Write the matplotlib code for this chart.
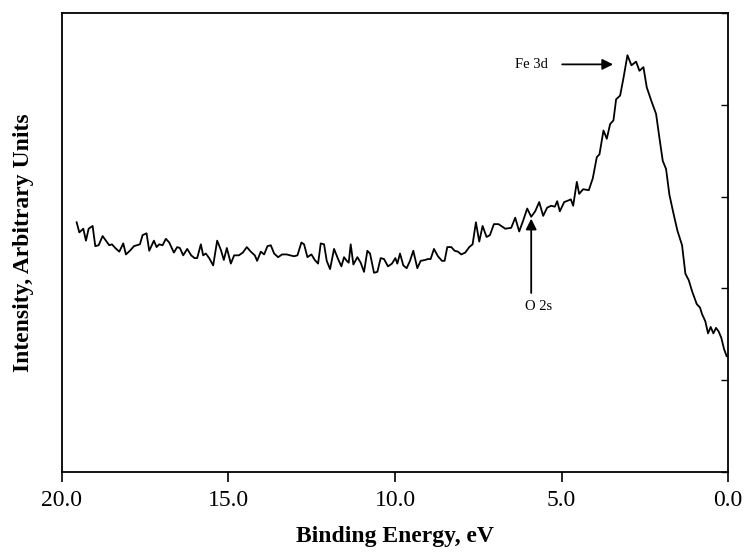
import matplotlib
matplotlib.use("Agg")
import matplotlib.pyplot as plt

# Binding energy (eV) and intensity (arbitrary units)
energy = [
    19.56, 19.48, 19.42, 19.36, 19.28, 19.20, 19.08, 19.00, 18.90, 18.78,
    18.68, 18.58, 18.50, 18.40, 18.28, 18.16, 18.08, 17.96, 17.84, 17.66,
    17.58, 17.46, 17.38, 17.24, 17.16, 17.08, 16.98, 16.88, 16.78, 16.64,
    16.54, 16.46, 16.36, 16.24, 16.12, 16.02, 15.94, 15.83, 15.76, 15.68,
    15.58, 15.46, 15.34, 15.23, 15.14, 15.05, 14.93, 14.83, 14.69, 14.57,
    14.45, 14.33, 14.21, 14.14, 14.03, 13.93, 13.83, 13.73, 13.63, 13.51,
    13.39, 13.25,
    13.15, 13.03, 12.93, 12.81, 12.73, 12.63, 12.51, 12.41, 12.31, 12.23,
    12.13, 12.05, 11.95, 11.83, 11.71, 11.61, 11.53, 11.45, 11.39, 11.33,
    11.25, 11.13, 11.03, 10.93, 10.83, 10.75, 10.63, 10.53, 10.43, 10.33,
    10.21, 10.09, 9.99, 9.93, 9.85, 9.75, 9.65, 9.55, 9.45, 9.33,
    9.23, 9.09, 9.01, 8.93, 8.83, 8.71, 8.59, 8.51, 8.43, 8.31,
    8.21, 8.11, 8.01, 7.89, 7.77, 7.67, 7.57, 7.47, 7.37, 7.25,
    7.15, 7.03, 6.89,
    6.85, 6.69, 6.51, 6.39, 6.27, 6.15, 6.03, 5.91, 5.79, 5.67,
    5.55, 5.43, 5.31, 5.20, 5.13, 5.05, 4.92, 4.78, 4.72, 4.65,
    4.54, 4.47, 4.35, 4.18, 4.06, 3.94, 3.86, 3.74, 3.64, 3.54,
    3.44, 3.36, 3.24, 3.14, 3.02, 2.90, 2.76, 2.66, 2.54, 2.44,
    2.30, 2.16, 2.06, 1.96, 1.86, 1.76, 1.64, 1.52, 1.38, 1.28,
    1.18, 1.08, 0.94, 0.84, 0.78, 0.68, 0.60, 0.52, 0.44, 0.36,
    0.28, 0.20, 0.12, 0.04, 0.00,
]
intensity = [
    2.72, 2.61, 2.63, 2.65, 2.52, 2.65, 2.68, 2.46, 2.47, 2.57,
    2.52, 2.47, 2.48, 2.44, 2.40, 2.49, 2.37, 2.41, 2.46, 2.48,
    2.58, 2.60, 2.41, 2.52, 2.45, 2.48, 2.47, 2.54, 2.50, 2.39,
    2.45, 2.44, 2.36, 2.43, 2.36, 2.33, 2.33, 2.48, 2.36, 2.38,
    2.33, 2.25, 2.52, 2.42, 2.31, 2.44, 2.27, 2.36, 2.36, 2.39,
    2.45, 2.40, 2.36, 2.30, 2.40, 2.37, 2.46, 2.47, 2.38, 2.34,
    2.37, 2.37,
    2.36, 2.35, 2.36, 2.50, 2.48, 2.34, 2.37, 2.31, 2.27, 2.49,
    2.48, 2.30, 2.21, 2.43, 2.32, 2.24, 2.34, 2.30, 2.28, 2.48,
    2.26, 2.34, 2.28, 2.18, 2.41, 2.38, 2.17, 2.18, 2.33, 2.32,
    2.24, 2.27, 2.33, 2.27, 2.38, 2.25, 2.22, 2.30, 2.41, 2.22,
    2.30, 2.31, 2.32, 2.32, 2.43, 2.35, 2.30, 2.30, 2.45, 2.45,
    2.41, 2.40, 2.37, 2.39, 2.45, 2.48, 2.72, 2.51, 2.68, 2.56,
    2.58, 2.70, 2.70,
    2.69, 2.65, 2.66, 2.77, 2.62, 2.74, 2.87, 2.78, 2.84, 2.94,
    2.79, 2.88, 2.90, 2.89, 2.95, 2.84, 2.94, 2.96, 2.97, 2.90,
    3.16, 3.03, 3.08, 3.07, 3.20, 3.43, 3.46, 3.72, 3.63, 3.79,
    3.83, 4.06, 4.10, 4.29, 4.54, 4.43, 4.47, 4.37, 4.41, 4.19,
    4.04, 3.90, 3.64, 3.39, 3.30, 3.02, 2.82, 2.63, 2.47, 2.16,
    2.09, 1.97, 1.83, 1.79, 1.72, 1.64, 1.51, 1.58, 1.51, 1.57,
    1.53, 1.46, 1.34, 1.26, 1.26,
]

x_ticks = [20.0, 15.0, 10.0, 5.0, 0.0]
x_tick_labels = ["20.0", "15.0", "10.0", "5.0", "0.0"]
y_ticks = [0, 1, 2, 3, 4, 5]

fe_label = "Fe 3d"
fe_text_pos = (5.89, 4.44)
fe_arrow = ((4.98, 4.44), (3.45, 4.44))
o_label = "O 2s"
o_text_pos = (5.70, 1.80)
o_arrow = ((5.91, 1.95), (5.91, 2.76))

plt.rcParams["font.family"] = ["Liberation Serif", "DejaVu Serif"]

fig = plt.figure(figsize=(7.45, 5.57), dpi=100)
ax = fig.add_axes([0.0832, 0.1526, 0.8940, 0.8241])

ax.plot(energy, intensity, color="black", linewidth=1.3)

ax.set_xlim(20, 0)
ax.set_ylim(0, 5)
ax.set_xticks(x_ticks)
ax.set_xticklabels(x_tick_labels, fontsize=17)
ax.tick_params(axis="x", direction="out", length=7, width=1.2, pad=6)

ax.yaxis.set_ticks_position("right")
ax.set_yticks(y_ticks)
ax.tick_params(axis="y", direction="in", length=5, width=1.0, labelright=False, labelleft=False)

for s in ax.spines.values():
    s.set_linewidth(1.3)

ax.set_xlabel("Binding Energy, eV", fontsize=17, fontweight="bold", labelpad=11)
ax.set_ylabel("Intensity, Arbitrary Units", fontsize=17, fontweight="bold", labelpad=20)
ax.yaxis.set_label_position("left")

ax.text(fe_text_pos[0], fe_text_pos[1], fe_label, fontsize=10.5, ha="center", va="center")
ax.annotate("", xy=fe_arrow[1], xytext=fe_arrow[0],
            arrowprops=dict(arrowstyle="-|>", color="black", lw=1.3, mutation_scale=16,
                            shrinkA=0, shrinkB=0))
ax.text(o_text_pos[0], o_text_pos[1], o_label, fontsize=10.5, ha="center", va="center")
ax.annotate("", xy=o_arrow[1], xytext=o_arrow[0],
            arrowprops=dict(arrowstyle="-|>", color="black", lw=1.3, mutation_scale=16,
                            shrinkA=0, shrinkB=0))

fig.savefig("out.png", dpi=100)
